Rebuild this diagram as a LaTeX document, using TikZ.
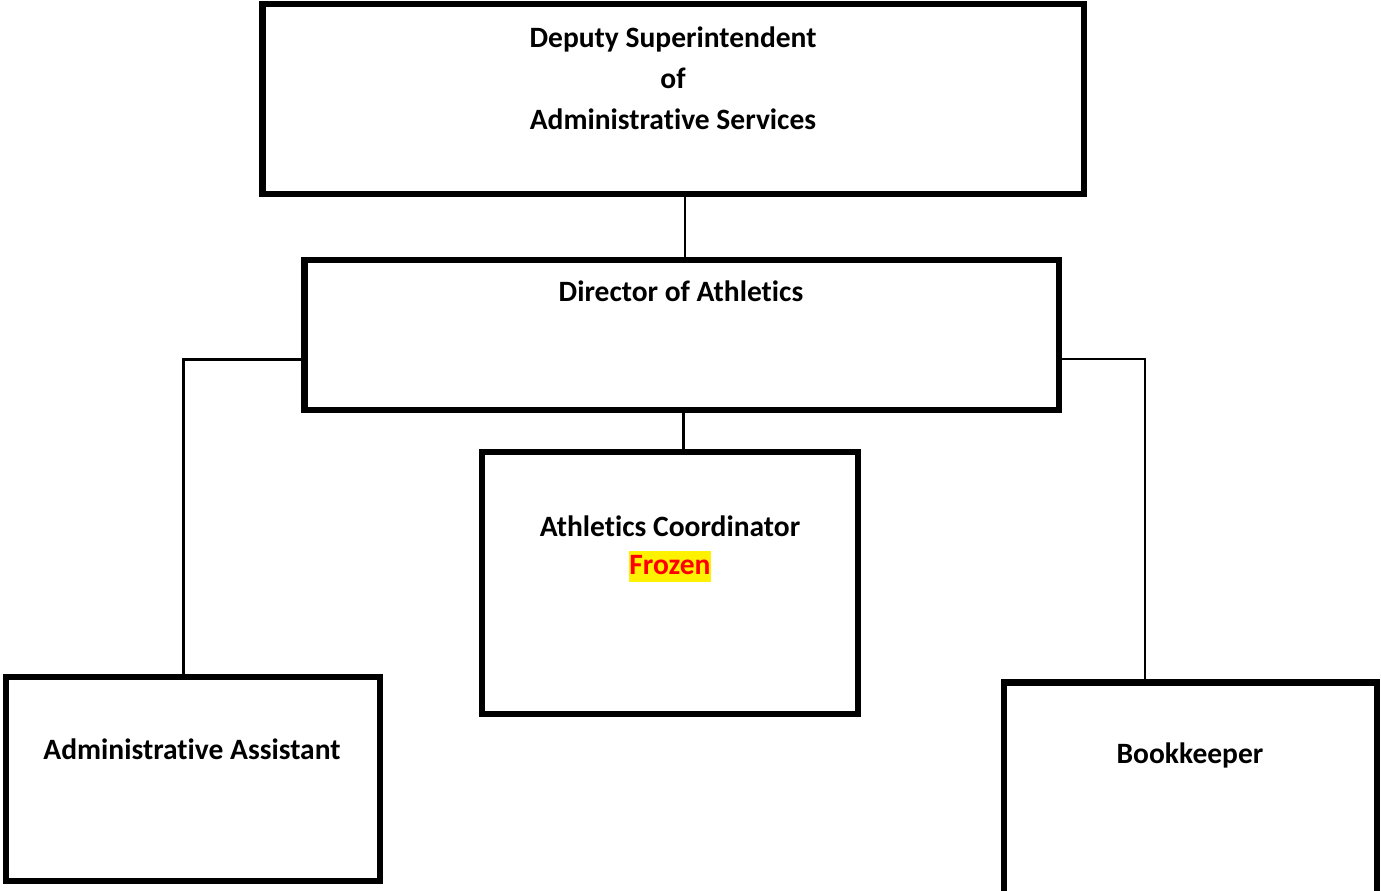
\documentclass[tikz,border=0pt]{standalone}
\usepackage{fontspec}
\setmainfont[Ligatures=NoCommon]{Carlito}
\usetikzlibrary{positioning}

\begin{document}
\begin{tikzpicture}[x=0.02cm,y=-0.02cm,
    post/.style={draw=black,line width=3.9pt,rectangle,inner sep=0pt},
    txt/.style={font=\fontsize{16.8}{23.2}\selectfont\bfseries,align=center,inner sep=0pt},
    link/.style={draw=black,line width=1.2pt}]
      \useasboundingbox (0,0) rectangle (1381,890);

      % boxes
      \node (dep)  [post,minimum width=16.44cm,minimum height=3.8cm]  at (673,99)    {};
      \node (dir)  [post,minimum width=15.1cm,minimum height=3.0cm]   at (681.5,335) {};
      \node (coord)[post,minimum width=7.52cm,minimum height=5.24cm]  at (670,583)   {};
      \node (adm)  [post,minimum width=7.48cm,minimum height=4.08cm]  at (193,779)   {};
      \node (book) [post,minimum width=7.46cm,minimum height=4.3cm]   at (1190.5,790){};

      % texts
      \node (deptxt)   [txt] at (673,78)  {Deputy Superintendent\\of\\Administrative Services};
      \node (dirtxt)   [txt] at (681,291) {Director of Athletics};
      \node (coordtxt) [txt] at (670,526) {Athletics Coordinator};
      \node (frozen)   [txt,fill=yellow,text=red,minimum width=1.64cm,
                        text height=0.46cm,text depth=0.16cm] at (670,566.5) {Frozen};
      \node (admtxt)   [txt] at (192,749) {Administrative Assistant};
      \node (booktxt)  [txt] at (1190,755) {Bookkeeper};

      % connectors
      \draw[link] ([xshift=0.24cm]dep.south) -- ([xshift=0.24cm]dep.south |- dir.north);
      \draw[link,line width=1.6pt] ([xshift=0.04cm]dir.south) -- ([xshift=0.04cm]dir.south |- coord.north);
      \draw[link] ([yshift=-0.49cm]dir.west) -| ([xshift=-0.19cm]adm.north);
      \draw[link] ([yshift=-0.48cm]dir.east) -| ([xshift=-0.91cm]book.north);
\end{tikzpicture}
\end{document}
